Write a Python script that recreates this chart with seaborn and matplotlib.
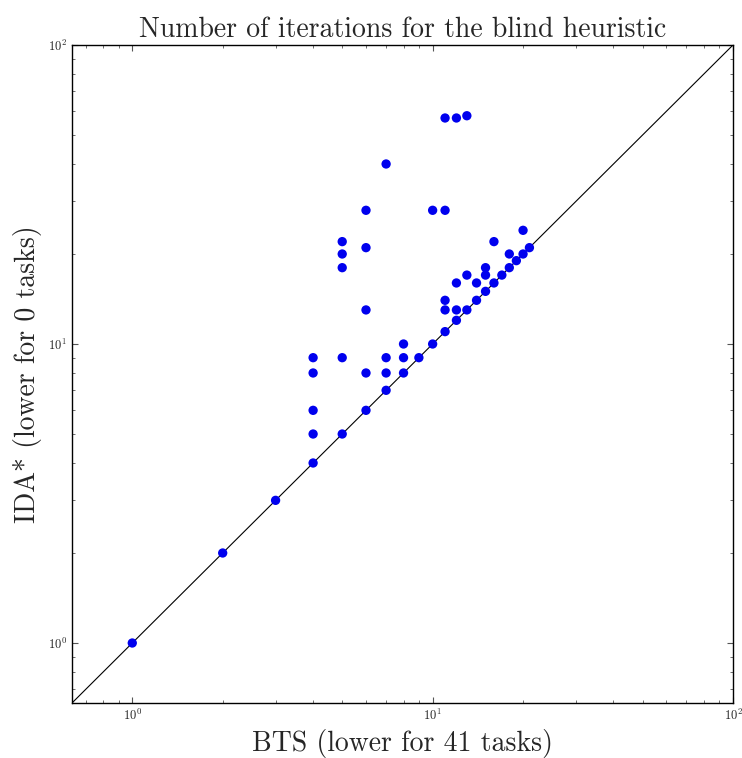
import matplotlib
matplotlib.use("Agg")
import matplotlib.pyplot as plt
import seaborn as sns
import pandas as pd

title = "Number of iterations for the blind heuristic"
xlabel = "BTS (lower for 41 tasks)"
ylabel = "IDA* (lower for 0 tasks)"

bts = [1, 2, 3, 4, 5, 6, 7, 8, 9, 10, 11, 12, 13, 14, 15, 16, 17, 18, 19, 20, 21,
       4, 4, 4, 4,
       5, 5, 5, 5,
       6, 6, 6, 6,
       7, 7, 7,
       8, 8,
       10,
       11, 11, 11, 11,
       12, 12, 12,
       13, 13,
       14,
       15, 15,
       16,
       18,
       20]
ida = [1, 2, 3, 4, 5, 6, 7, 8, 9, 10, 11, 12, 13, 14, 15, 16, 17, 18, 19, 20, 21,
       9, 8, 6, 5,
       22, 20, 18, 9,
       28, 21, 13, 8,
       40, 9, 8,
       10, 9,
       28,
       57, 28, 14, 13,
       57, 16, 13,
       58, 17,
       16,
       18, 17,
       22,
       20,
       24]
axis_limits = [0.63, 100]

sns.set_style("white")
plt.rcParams["font.family"] = ["cmr10", "DejaVu Serif"]
plt.rcParams["mathtext.fontset"] = "cm"
plt.rcParams["axes.formatter.use_mathtext"] = True

df = pd.DataFrame({"bts": bts, "ida": ida})
diag = pd.DataFrame({"v": axis_limits})

fig = plt.figure(figsize=(7.42, 7.58), dpi=100)
ax = fig.add_axes([72/742, 1-703/758, (733-72)/742, (703-45)/758])
ax.set_xscale("log")
ax.set_yscale("log")
sns.lineplot(data=diag, x="v", y="v", ax=ax, color="black", linewidth=0.8)
sns.scatterplot(data=df, x="bts", y="ida", ax=ax, color="#0000ee", s=45,
                edgecolor="none", zorder=3)
ax.set_xlim(axis_limits)
ax.set_ylim(axis_limits)
ax.set_title(title, fontsize=20, pad=6)
ax.set_xlabel(xlabel, fontsize=20, labelpad=4)
ax.set_ylabel(ylabel, fontsize=20, labelpad=4)
for s in ax.spines.values():
    s.set_linewidth(1.0)
    s.set_color("black")
ax.tick_params(which="both", direction="in", top=True, right=True, bottom=True, left=True,
               labelsize=9, color="#555555")
ax.tick_params(which="major", length=4, width=0.8)
ax.tick_params(which="minor", length=2, width=0.6)
fig.savefig("out.png", dpi=100)
